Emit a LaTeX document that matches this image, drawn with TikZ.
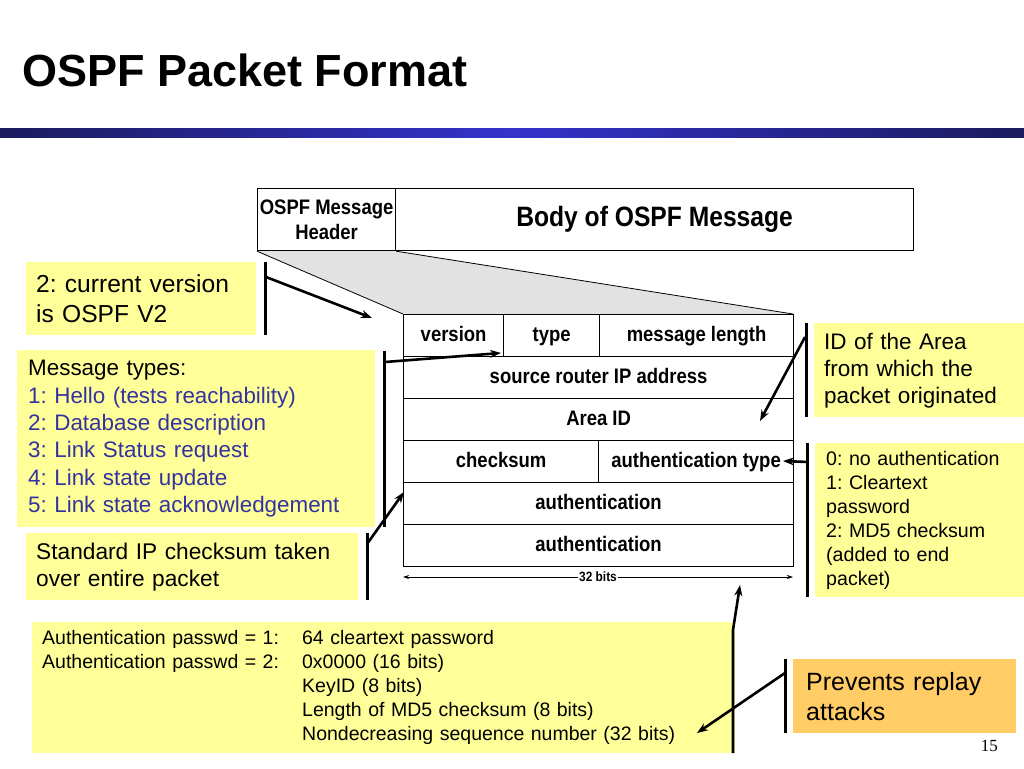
\documentclass[tikz,border=0pt]{standalone}
\usepackage{fontspec}
\setmainfont{Liberation Sans}
\newfontfamily\nb[FakeStretch=0.88]{Liberation Sans}
\newfontfamily\serifnum{Liberation Serif}
\usetikzlibrary{arrows.meta}
\definecolor{navy}{HTML}{1B1B5E}
\definecolor{barblue}{HTML}{3333CC}
\definecolor{noteyellow}{HTML}{FFFF99}
\definecolor{noteorange}{HTML}{FFCC66}
\definecolor{typeblue}{HTML}{3333A0}
\definecolor{zoomgray}{HTML}{E2E2E2}
\tikzset{
  cell/.style={draw=black, line width=1.2pt, anchor=north west, inner sep=0pt,
    minimum height=42pt, text height=15pt, text depth=3pt,
    font=\nb\bfseries\fontsize{21}{24}\selectfont},
  hcell/.style={draw=black, line width=1.2pt, anchor=north west, inner sep=0pt,
    minimum height=62pt},
  note/.style={fill=noteyellow, anchor=north west, inner sep=0pt, align=left},
  bar/.style={line width=3pt},
  callarrow/.style={line width=2.6pt, -{Stealth[length=11pt,width=8pt]}},
}
\begin{document}
\frenchspacing
\begin{tikzpicture}[x=1pt,y=-1pt]
\useasboundingbox (0,0) rectangle (1024,768);
% title and bar
\node[anchor=base west, inner sep=0pt, font=\bfseries\fontsize{45}{50}\selectfont] (title) at (22,86) {OSPF Packet Format};
\shade[left color=navy, right color=navy, middle color=barblue] (0,128) rectangle (1024,137);

% header box
\node[hcell, minimum width=138pt, align=center, font=\nb\bfseries\fontsize{21}{25}\selectfont] (hdr) at (257,188) {OSPF Message\\Header};
\node[hcell, minimum width=518pt, font=\nb\bfseries\fontsize{28}{30}\selectfont] (body) at (395,188) {Body of OSPF Message};

% zoom trapezoid
\coordinate (ptl) at (403,314);
\coordinate (ptr) at (793,314);
\fill[zoomgray] (hdr.south west) -- (hdr.south east) -- (ptr) -- (ptl) -- cycle;
\draw[line width=0.8pt] (hdr.south west) -- (ptl);
\draw[line width=0.8pt] (hdr.south east) -- (ptr);

% packet cells
\node[cell, minimum width=100pt] (ver) at (403,314) {version};
\node[cell, minimum width=96pt] (typ) at (503,314) {type};
\node[cell, minimum width=194pt] (mlen) at (599,314) {message length};
\node[cell, minimum width=390pt] (src) at (403,356) {source router IP address};
\node[cell, minimum width=390pt] (area) at (403,398) {Area ID};
\node[cell, minimum width=195pt] (chk) at (403,440) {checksum};
\node[cell, minimum width=195pt] (atype) at (598,440) {authentication type};
\node[cell, minimum width=390pt] (auth1) at (403,482) {authentication};
\node[cell, minimum width=390pt] (auth2) at (403,524) {authentication};

% 32 bits
\coordinate (bl) at (403,577);
\coordinate (br) at (793,577);
\draw[line width=0.7pt, {Stealth[length=6pt,width=4pt]}-{Stealth[length=6pt,width=4pt]}] (bl) -- (br);
\node[fill=white, inner xsep=1pt, inner ysep=0pt, font=\nb\bfseries\fontsize{13.5}{14}\selectfont] (bits) at (598,577) {32 bits};

% callout 1
\node[note, minimum width=230pt, minimum height=73pt, text width=210pt, inner xsep=10pt, font=\fontsize{24.6}{30.5}\selectfont] (n1) at (26,262) {2: current version\\is OSPF V2};
\coordinate (b1t) at (265,262); \coordinate (b1b) at (265,335);
\draw[bar] (b1t) -- (b1b);
\coordinate (a1s) at (266,277); \coordinate (a1e) at (372,318);
\draw[callarrow] (a1s) -- (a1e);

% callout 2
\node[note, minimum width=358pt, minimum height=177pt, text width=336pt, inner xsep=11pt, font=\fontsize{22.4}{27.3}\selectfont] (n2) at (17,350) {Message types:\\\textcolor{typeblue}{1: Hello (tests reachability)}\\\textcolor{typeblue}{2: Database description}\\\textcolor{typeblue}{3: Link Status request}\\\textcolor{typeblue}{4: Link state update}\\\textcolor{typeblue}{5: Link state acknowledgement}};
\coordinate (b2t) at (384,351); \coordinate (b2b) at (384,527);
\draw[bar] (b2t) -- (b2b);
\coordinate (a2s) at (385,362); \coordinate (a2e) at (501,353);
\draw[callarrow] (a2s) -- (a2e);

% callout 3
\node[note, minimum width=332pt, minimum height=67pt, text width=312pt, inner xsep=10pt, font=\fontsize{22.7}{27}\selectfont] (n3) at (26,533) {Standard IP checksum taken\\over entire packet};
\coordinate (b3t) at (367,533); \coordinate (b3b) at (367,600);
\draw[bar] (b3t) -- (b3b);
\coordinate (a3s) at (367,544); \coordinate (a3e) at (404,492);
\draw[callarrow] (a3s) -- (a3e);

% callout 4 (right)
\node[note, minimum width=209pt, minimum height=94pt, text width=199pt, inner xsep=10pt, font=\fontsize{22.5}{27}\selectfont] (n4) at (814,323) {ID of the Area\\from which the\\packet originated};
\coordinate (b4t) at (806,323); \coordinate (b4b) at (806,417);
\draw[bar] (b4t) -- (b4b);
\coordinate (a4s) at (805,337); \coordinate (a4e) at (760,421);
\draw[callarrow] (a4s) -- (a4e);

% callout 5 (right)
\node[note, minimum width=208pt, minimum height=154pt, text width=197pt, inner xsep=11pt, font=\fontsize{19.6}{23.9}\selectfont] (n5) at (815,443) {0: no authentication\\1: Cleartext\\password\\2: MD5 checksum\\(added to end\\packet)};
\coordinate (b5t) at (807,443); \coordinate (b5b) at (807,597);
\draw[bar] (b5t) -- (b5b);
\coordinate (a5s) at (808,462); \coordinate (a5e) at (783,461);
\draw[callarrow] (a5s) -- (a5e);

% bottom box
\node[note, minimum width=693pt, minimum height=131pt, text width=683pt, inner xsep=10pt, font=\fontsize{19.5}{24}\selectfont] (n6) at (32,622) {%
\begin{tabular}{@{}p{260pt}@{}l@{}}
Authentication passwd = 1: & 64 cleartext password\\
Authentication passwd = 2: & 0x0000 (16 bits)\\
 & KeyID (8 bits)\\
 & Length of MD5 checksum (8 bits)\\
 & Nondecreasing sequence number (32 bits)
\end{tabular}};
\coordinate (b6b) at (733,753); \coordinate (b6m) at (733,630); \coordinate (a6e) at (740,585);
\draw[line width=2.6pt, -{Stealth[length=11pt,width=8pt]}] (b6b) -- (b6m) -- (a6e);

% orange callout
\node[fill=noteorange, anchor=north west, inner sep=0pt, align=left, minimum width=210pt, minimum height=74pt, text width=197pt, inner xsep=13pt, font=\fontsize{25}{30}\selectfont] (n7) at (793,659) {Prevents replay\\attacks};
\coordinate (b7t) at (785,659); \coordinate (b7b) at (785,733);
\draw[bar] (b7t) -- (b7b);
\coordinate (a7s) at (785,673); \coordinate (a7e) at (697,733);
\draw[callarrow] (a7s) -- (a7e);

% page number
\node[anchor=base east, inner sep=0pt, font=\serifnum\fontsize{17}{18}\selectfont] (pg) at (998,751) {15};
\end{tikzpicture}
\end{document}
